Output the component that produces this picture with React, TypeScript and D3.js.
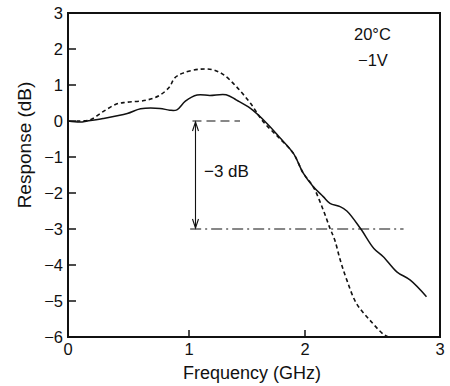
import React from "react";
import * as d3 from "d3";

// Data (Frequency in GHz, Response in dB)
const measuredFreq = [0, 0.1, 0.16, 0.29, 0.49, 0.6, 0.76, 0.84, 0.9, 0.97, 1.07, 1.18, 1.32, 1.41, 1.53, 1.67, 1.78, 1.9, 1.985, 2.06, 2.135, 2.185, 2.26, 2.31, 2.41, 2.51, 2.58, 2.68, 2.78, 2.9];
const measuredResp = [0, -0.03, 0.0, 0.07, 0.21, 0.34, 0.35, 0.3, 0.31, 0.55, 0.72, 0.71, 0.73, 0.58, 0.35, -0.06, -0.45, -0.9, -1.45, -1.82, -2.1, -2.29, -2.38, -2.5, -2.98, -3.54, -3.77, -4.19, -4.42, -4.88];

const modelFreq = [0.07, 0.18, 0.29, 0.4, 0.485, 0.65, 0.76, 0.84, 0.88, 0.95, 1.095, 1.21, 1.3, 1.41, 1.53, 1.64, 1.78, 1.9, 1.985, 2.06, 2.135, 2.185, 2.22, 2.26, 2.31, 2.38, 2.48, 2.58, 2.62];
const modelResp = [0, 0.03, 0.26, 0.47, 0.52, 0.58, 0.72, 0.95, 1.19, 1.33, 1.44, 1.42, 1.28, 0.95, 0.49, -0.02, -0.48, -0.9, -1.45, -1.82, -2.47, -2.98, -3.3, -3.85, -4.42, -5.06, -5.53, -5.92, -6.0];

const xTicks = [0, 1, 2, 3];
const yTicks = [3, 2, 1, 0, -1, -2, -3, -4, -5, -6];

// reference markers
const refTopY = 0;
const refBottomY = -3;
const refTopX = [1.03, 1.44];
const refBottomX = [1.01, 2.73];
const arrowX = 1.056;

const annotations = ["20°C", "−1V"];
const bwLabel = "−3 dB";

const W = 450;
const H = 386;
const FONT = "'Liberation Sans', Arial, Helvetica, sans-serif";

export default function App() {
  const x = d3.scaleLinear().domain([0, 1, 2, 3]).range([68, 189, 305, 440]);
  const y = d3.scaleLinear().domain([-6, 3]).range([337, 13]);

  const line = d3
    .line<[number, number]>()
    .x((d) => x(d[0]))
    .y((d) => y(d[1]))
    .curve(d3.curveCatmullRom.alpha(0.5));

  const measured = measuredFreq.map((f, i) => [f, measuredResp[i]] as [number, number]);
  const model = modelFreq.map((f, i) => [f, modelResp[i]] as [number, number]);

  const fmt = (v: number) => (v < 0 ? "−" + Math.abs(v) : String(v));

  const ax = x(arrowX);
  const ay0 = y(refTopY);
  const ay1 = y(refBottomY);

  return (
    <svg
      width={W}
      height={H}
      style={{ position: "absolute", left: 0, top: 0, background: "#fff" }}
      fontFamily={FONT}
    >
      {/* curves */}
      <path d={line(model) || ""} fill="none" stroke="#111" strokeWidth={1.6} strokeDasharray="4 3" />
      <path d={line(measured) || ""} fill="none" stroke="#111" strokeWidth={1.5} />

      {/* reference lines */}
      <line x1={x(refTopX[0])} x2={x(refTopX[1])} y1={ay0} y2={ay0} stroke="#111" strokeWidth={1.2} strokeDasharray="9 5" />
      <line x1={x(refBottomX[0])} x2={x(refBottomX[1])} y1={ay1} y2={ay1} stroke="#111" strokeWidth={1.2} strokeDasharray="11 4 2 4" />
      <line x1={ax} x2={ax} y1={ay0 + 1} y2={ay1 - 1} stroke="#111" strokeWidth={1.1} />
      <path d={`M${ax - 3},${ay0 + 10} L${ax},${ay0 + 1} L${ax + 3},${ay0 + 10}`} fill="none" stroke="#111" strokeWidth={1.1} />
      <path d={`M${ax - 3},${ay1 - 10} L${ax},${ay1 - 1} L${ax + 3},${ay1 - 10}`} fill="none" stroke="#111" strokeWidth={1.1} />
      <text x={204} y={177} fontSize={17} fill="#111">{bwLabel}</text>

      {/* frame */}
      <rect x={x(0)} y={y(3)} width={x(3) - x(0)} height={y(-6) - y(3)} fill="none" stroke="#111" strokeWidth={2} />

      {/* y ticks */}
      {yTicks.map((t) => (
        <g key={"y" + t}>
          <line x1={x(0)} x2={x(0) + 8} y1={y(t)} y2={y(t)} stroke="#111" strokeWidth={1.5} />
          <text x={63} y={y(t) + 6} fontSize={16.5} textAnchor="end" fill="#111">{fmt(t)}</text>
        </g>
      ))}

      {/* x ticks */}
      {xTicks.map((t) => (
        <g key={"x" + t}>
          <line x1={x(t)} x2={x(t)} y1={y(-6)} y2={y(-6) - 7} stroke="#111" strokeWidth={1.5} />
          <text x={x(t)} y={355} fontSize={16.5} textAnchor="middle" fill="#111">{fmt(t)}</text>
        </g>
      ))}

      {/* axis titles */}
      <text x={252} y={379} fontSize={18} textAnchor="middle" fill="#111">Frequency (GHz)</text>
      <text transform={`translate(31,145) rotate(-90)`} fontSize={19} textAnchor="middle" fill="#111">Response (dB)</text>

      {/* conditions */}
      <text x={354} y={40} fontSize={16.5} fill="#111">{annotations[0]}</text>
      <text x={358} y={66} fontSize={16.5} fill="#111">{annotations[1]}</text>
    </svg>
  );
}
